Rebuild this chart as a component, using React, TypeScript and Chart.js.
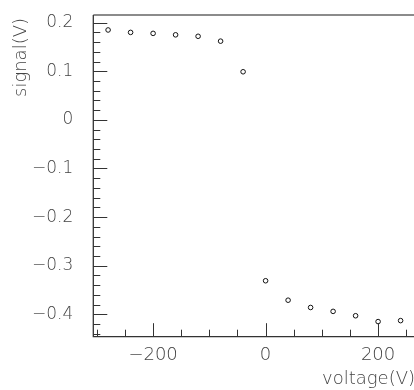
import React, { useEffect, useRef } from "react";
import { Chart, registerables } from "chart.js";

Chart.register(...registerables);

const voltages = [-280, -240, -200, -160, -120, -80, -40, 0, 40, 80, 120, 160, 200, 240];
const signals = [0.185, 0.18, 0.178, 0.175, 0.172, 0.162, 0.099, -0.331, -0.371, -0.386, -0.394, -0.403, -0.415, -0.413];
const xTickValues = [-200, 0, 200];
const yTickValues = [-0.4, -0.3, -0.2, -0.1, 0, 0.1, 0.2];
const xLabelTitle = "voltage(V)";
const yLabelTitle = "signal(V)";
const xRange = [-306.3, 265.6];
const yRange = [-0.4461, 0.2158];

const FONT_FAMILY = "'DejaVu Sans', sans-serif";
const TEXT_COLOR = "#444";

const fmt = (v: number, dec: number) => {
  const r = Number(v.toFixed(dec));
  if (r === 0) return "0";
  return (r < 0 ? "\u2212" : "") + Math.abs(r).toString();
};

const framePlugin = {
  id: "rootFrame",
  afterDraw(chart: any) {
    const { ctx, chartArea } = chart;
    const { left, right, top, bottom } = chartArea;
    const xs = chart.scales.x;
    const ys = chart.scales.y;
    ctx.save();
    ctx.strokeStyle = "#666";
    ctx.lineWidth = 1.5;
    ctx.beginPath();
    ctx.moveTo(left, top);
    ctx.lineTo(right, top);
    ctx.lineTo(right, bottom);
    ctx.stroke();
    ctx.strokeStyle = "#333";
    ctx.lineWidth = 1.3;
    ctx.beginPath();
    ctx.moveTo(left, top);
    ctx.lineTo(left, bottom);
    ctx.lineTo(right, bottom);
    ctx.stroke();
    ctx.lineWidth = 1;
    ctx.beginPath();
    for (let k = -22; k <= 10; k++) {
      const p = ys.getPixelForValue(k * 0.02);
      if (p < top - 0.5 || p > bottom + 0.5) continue;
      const len = k % 5 === 0 ? 14 : 7;
      ctx.moveTo(left, Math.round(p) + 0.5);
      ctx.lineTo(left + len, Math.round(p) + 0.5);
    }
    for (let k = -6; k <= 5; k++) {
      const p = xs.getPixelForValue(k * 50);
      if (p < left - 0.5 || p > right + 0.5) continue;
      const len = k % 4 === 0 ? 13.5 : 7;
      ctx.moveTo(Math.round(p) + 0.5, bottom);
      ctx.lineTo(Math.round(p) + 0.5, bottom - len);
    }
    ctx.stroke();
    // y-axis title, right-aligned to the top of the axis (ROOT style)
    ctx.translate(21.5, top + 3);
    ctx.rotate(-Math.PI / 2);
    ctx.font = `200 18px ${FONT_FAMILY}`;
    ctx.fillStyle = TEXT_COLOR;
    ctx.textAlign = "right";
    ctx.textBaseline = "middle";
    ctx.fillText(yLabelTitle, 0, 0);
    ctx.restore();
  },
};

export default function App() {
  const ref = useRef<HTMLCanvasElement | null>(null);
  useEffect(() => {
    if (!ref.current) return;
    const font = { family: FONT_FAMILY, weight: "200" as any };
    const chart = new Chart(ref.current, {
      type: "scatter",
      data: {
        datasets: [
          {
            data: voltages.map((x, i) => ({ x, y: signals[i] })),
            showLine: false,
            pointStyle: "circle",
            pointRadius: 2.3,
            pointBorderWidth: 1,
            pointBorderColor: "#111",
            pointBackgroundColor: "rgba(0,0,0,0)",
          },
        ],
      },
      options: {
        responsive: false,
        animation: false,
        devicePixelRatio: 1,
        layout: { padding: { left: 0, top: 15, right: 4, bottom: 0 } },
        plugins: { legend: { display: false }, tooltip: { enabled: false } },
        scales: {
          x: {
            type: "linear",
            min: xRange[0],
            max: xRange[1],
            grid: { display: false, drawTicks: false },
            border: { display: false },
            afterBuildTicks: (s: any) => {
              s.ticks = xTickValues.map((value) => ({ value }));
            },
            ticks: {
              padding: 8,
              color: TEXT_COLOR,
              font: { ...font, size: 18 },
              callback: (v: any) => fmt(Number(v), 0),
            },
            title: {
              display: true,
              text: xLabelTitle,
              align: "end",
              color: TEXT_COLOR,
              font: { ...font, size: 18, lineHeight: 1 },
              padding: { top: 0, bottom: 1.5 },
            },
            afterFit: (s: any) => {
              s.height = 53.3;
            },
          },
          y: {
            type: "linear",
            min: yRange[0],
            max: yRange[1],
            grid: { display: false, drawTicks: false },
            border: { display: false },
            afterBuildTicks: (s: any) => {
              s.ticks = yTickValues.map((value) => ({ value }));
            },
            ticks: {
              padding: 20,
              color: TEXT_COLOR,
              font: { ...font, size: 17 },
              callback: (v: any) => fmt(Number(v), 1),
            },
            title: { display: false },
            afterFit: (s: any) => {
              s.width = 93.3;
              s.paddingTop = 0;
              s.paddingBottom = 0;
            },
          },
        },
      },
      plugins: [framePlugin],
    });
    return () => chart.destroy();
  }, []);
  return (
    <div
      style={{
        position: "fixed",
        left: 0,
        top: 0,
        width: 414,
        height: 390,
        overflow: "hidden",
        background: "#fff",
      }}
    >
      <canvas ref={ref} width={420} height={390} style={{ display: "block" }} />
    </div>
  );
}
